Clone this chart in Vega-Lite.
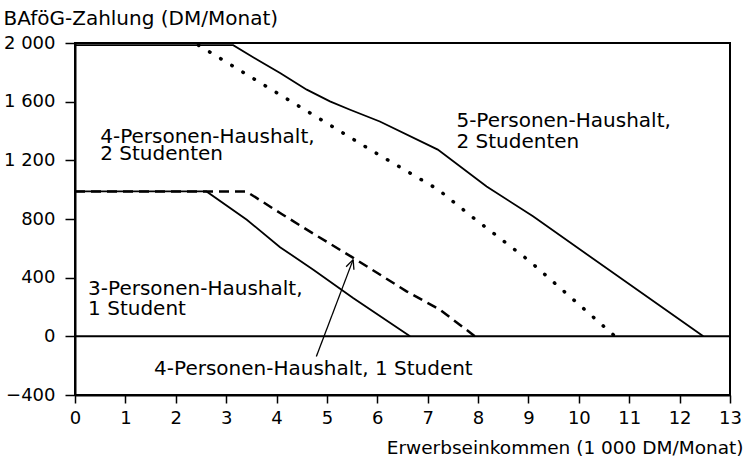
{
  "$schema": "https://vega.github.io/schema/vega-lite/v6.json",
  "width": 655,
  "height": 352,
  "autosize": {"type": "none"},
  "padding": {"left": 75, "top": 43, "right": 20, "bottom": 70},
  "background": "white",
  "config": {"view": {"stroke": "black", "strokeWidth": 2}, "font": "DejaVu Sans"},
  "datasets": {
    "curves": [
      {"series": "5-Personen-Haushalt, 2 Studenten", "x": 0, "y": 1985},
      {"series": "5-Personen-Haushalt, 2 Studenten", "x": 3.14, "y": 1985},
      {"series": "5-Personen-Haushalt, 2 Studenten", "x": 3.67, "y": 1875},
      {"series": "5-Personen-Haushalt, 2 Studenten", "x": 4.07, "y": 1795},
      {"series": "5-Personen-Haushalt, 2 Studenten", "x": 4.6, "y": 1682},
      {"series": "5-Personen-Haushalt, 2 Studenten", "x": 5.06, "y": 1602},
      {"series": "5-Personen-Haushalt, 2 Studenten", "x": 5.46, "y": 1545},
      {"series": "5-Personen-Haushalt, 2 Studenten", "x": 6.05, "y": 1465},
      {"series": "5-Personen-Haushalt, 2 Studenten", "x": 7.2, "y": 1273},
      {"series": "5-Personen-Haushalt, 2 Studenten", "x": 8.17, "y": 1022},
      {"series": "5-Personen-Haushalt, 2 Studenten", "x": 9.09, "y": 818},
      {"series": "5-Personen-Haushalt, 2 Studenten", "x": 12.47, "y": 0},
      {"series": "4-Personen-Haushalt, 2 Studenten", "x": 2.45, "y": 1985},
      {"series": "4-Personen-Haushalt, 2 Studenten", "x": 3.6, "y": 1745},
      {"series": "4-Personen-Haushalt, 2 Studenten", "x": 4.8, "y": 1495},
      {"series": "4-Personen-Haushalt, 2 Studenten", "x": 5.85, "y": 1275},
      {"series": "4-Personen-Haushalt, 2 Studenten", "x": 7.21, "y": 1000},
      {"series": "4-Personen-Haushalt, 2 Studenten", "x": 7.87, "y": 818},
      {"series": "4-Personen-Haushalt, 2 Studenten", "x": 9.03, "y": 511},
      {"series": "4-Personen-Haushalt, 2 Studenten", "x": 10.72, "y": 0},
      {"series": "4-Personen-Haushalt, 1 Student", "x": 0, "y": 988},
      {"series": "4-Personen-Haushalt, 1 Student", "x": 3.4, "y": 988},
      {"series": "4-Personen-Haushalt, 1 Student", "x": 4.07, "y": 841},
      {"series": "4-Personen-Haushalt, 1 Student", "x": 4.73, "y": 700},
      {"series": "4-Personen-Haushalt, 1 Student", "x": 5.5, "y": 540},
      {"series": "4-Personen-Haushalt, 1 Student", "x": 6.58, "y": 307},
      {"series": "4-Personen-Haushalt, 1 Student", "x": 7.24, "y": 182},
      {"series": "4-Personen-Haushalt, 1 Student", "x": 7.94, "y": 0},
      {"series": "3-Personen-Haushalt, 1 Student", "x": 0, "y": 988},
      {"series": "3-Personen-Haushalt, 1 Student", "x": 2.61, "y": 988},
      {"series": "3-Personen-Haushalt, 1 Student", "x": 3.41, "y": 795},
      {"series": "3-Personen-Haushalt, 1 Student", "x": 4.07, "y": 608},
      {"series": "3-Personen-Haushalt, 1 Student", "x": 4.73, "y": 454},
      {"series": "3-Personen-Haushalt, 1 Student", "x": 5.52, "y": 261},
      {"series": "3-Personen-Haushalt, 1 Student", "x": 6.65, "y": 0}
    ],
    "zero": [{"x": 0, "y": 0, "x2": 13, "y2": 0}],
    "arrow": [
      {"x": 4.79, "y": -137, "x2": 5.52, "y2": 523},
      {"x": 5.381, "y": 475, "x2": 5.52, "y2": 523},
      {"x": 5.536, "y": 454, "x2": 5.52, "y2": 523}
    ],
    "labels": [
      {"label": "4-Personen-Haushalt,\n2 Studenten", "x": 0.5, "y": 1320, "tight": true},
      {"label": "5-Personen-Haushalt,\n2 Studenten", "x": 7.57, "y": 1425, "tight": false},
      {"label": "3-Personen-Haushalt,\n1 Student", "x": 0.26, "y": 284, "tight": false},
      {"label": "4-Personen-Haushalt, 1 Student", "x": 1.57, "y": -266, "tight": false}
    ]
  },
  "encoding": {
    "x": {
      "field": "x", "type": "quantitative",
      "scale": {"domain": [0, 13], "nice": false, "zero": false},
      "axis": {
        "title": "Erwerbseinkommen (1 000 DM/Monat)",
        "values": [0, 1, 2, 3, 4, 5, 6, 7, 8, 9, 10, 11, 12, 13],
        "format": "d",
        "grid": false,
        "domainColor": "black", "domainWidth": 2,
        "tickColor": "black", "tickWidth": 1.5, "tickSize": 8,
        "labelFont": "DejaVu Sans", "labelFontSize": 18, "labelColor": "black",
        "labelPadding": 6, "labelFlush": false, "labelOverlap": false,
        "titleFont": "DejaVu Sans", "titleFontSize": 18.5, "titleFontWeight": "normal", "titleColor": "black",
        "titleAlign": "right", "titleBaseline": "alphabetic", "titleX": 668, "titleY": 58
      }
    },
    "y": {
      "field": "y", "type": "quantitative",
      "scale": {"domain": [-400, 2000], "nice": false, "zero": false},
      "axis": {
        "title": "BAföG-Zahlung (DM/Monat)",
        "values": [-400, 0, 400, 800, 1200, 1600, 2000],
        "labelExpr": "replace(format(datum.value, ','), ',', ' ')",
        "grid": false,
        "domainColor": "black", "domainWidth": 2,
        "tickColor": "black", "tickWidth": 1.5, "tickSize": 10,
        "labelFont": "DejaVu Sans", "labelFontSize": 18, "labelColor": "black",
        "labelPadding": 10, "labelOverlap": false,
        "titleFont": "DejaVu Sans", "titleFontSize": 20, "titleFontWeight": "normal", "titleColor": "black",
        "titleAngle": 0, "titleAlign": "left", "titleBaseline": "alphabetic", "titleX": -72, "titleY": -19
      }
    }
  },
  "layer": [
    {
      "data": {"name": "zero"},
      "mark": {"type": "rule", "color": "black", "strokeWidth": 2},
      "encoding": {"x2": {"field": "x2"}, "y2": {"field": "y2"}}
    },
    {
      "data": {"name": "curves"},
      "transform": [{"filter": "datum.series == '5-Personen-Haushalt, 2 Studenten' || datum.series == '3-Personen-Haushalt, 1 Student'"}],
      "mark": {"type": "line", "color": "black", "strokeWidth": 1.8},
      "encoding": {"detail": {"field": "series"}}
    },
    {
      "data": {"name": "curves"},
      "transform": [{"filter": "datum.series == '4-Personen-Haushalt, 2 Studenten'"}],
      "mark": {"type": "line", "color": "black", "strokeWidth": 3.5, "strokeCap": "round", "strokeDash": [0.5, 12.5]},
      "encoding": {"detail": {"field": "series"}}
    },
    {
      "data": {"name": "curves"},
      "transform": [{"filter": "datum.series == '4-Personen-Haushalt, 1 Student'"}],
      "mark": {"type": "line", "color": "black", "strokeWidth": 2.5, "strokeDash": [10, 6]},
      "encoding": {"detail": {"field": "series"}}
    },
    {
      "data": {"name": "arrow"},
      "mark": {"type": "rule", "color": "black", "strokeWidth": 1.3},
      "encoding": {"x2": {"field": "x2"}, "y2": {"field": "y2"}}
    },
    {
      "data": {"name": "labels"},
      "transform": [{"filter": "datum.tight"}],
      "mark": {"type": "text", "align": "left", "baseline": "alphabetic", "font": "DejaVu Sans", "fontSize": 20, "color": "black", "lineBreak": "\n", "lineHeight": 17.5},
      "encoding": {"text": {"field": "label"}}
    },
    {
      "data": {"name": "labels"},
      "transform": [{"filter": "!datum.tight"}],
      "mark": {"type": "text", "align": "left", "baseline": "alphabetic", "font": "DejaVu Sans", "fontSize": 20, "color": "black", "lineBreak": "\n", "lineHeight": 20.5},
      "encoding": {"text": {"field": "label"}}
    }
  ]
}
